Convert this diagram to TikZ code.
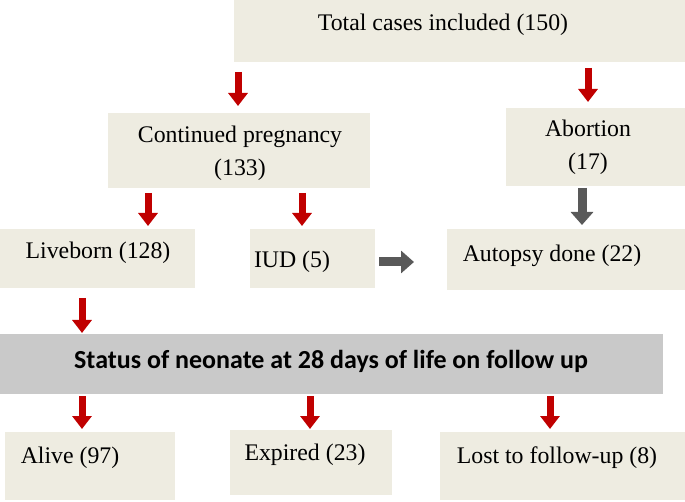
\documentclass[tikz,border=0pt]{standalone}
\usepackage{fontspec}
\setmainfont{Liberation Serif}
\newfontfamily\carl{Carlito}
\usetikzlibrary{arrows.meta}
\definecolor{beige}{HTML}{EEECE1}
\definecolor{barg}{HTML}{C9C9C9}
\definecolor{ared}{HTML}{C00000}
\definecolor{agray}{HTML}{595959}
\tikzset{
 box/.style={fill=beige,draw=none},
 lab/.style={font=\fontsize{23.8}{33}\selectfont,align=center,inner sep=0},
 redarr/.style={draw=ared,line width=7pt,-{Triangle[width=19pt,length=13pt]}},
 grayarr/.style={draw=agray,line width=9pt,-{Triangle[width=22pt,length=13pt]}}
}
\begin{document}
\begin{tikzpicture}[x=1pt,y=-1pt]
\useasboundingbox (0,0) rectangle (685,502);
\fill[box] (234,0) rectangle (685,62);
\fill[box] (108,113) rectangle (370,188);
\fill[box] (506,108) rectangle (685,186);
\fill[box] (0,229) rectangle (195,288);
\fill[box] (250,229) rectangle (375,288);
\fill[box] (447,229) rectangle (685,290);
\fill[barg] (0,334) rectangle (663,394);
\fill[box] (5,432) rectangle (175,500);
\fill[box] (230,430) rectangle (392,495);
\fill[box] (440,432) rectangle (685,500);
\node[lab] (total) at (443,25) {Total cases included (150)};
\node[lab] (cont) at (240,153) {Continued pregnancy\\(133)};
\node[lab] (abort) at (588,147) {Abortion\\(17)};
\node[lab] (live) at (98,253) {Liveborn (128)};
\node[lab] (iud) at (292,262) {IUD (5)};
\node[lab] (aut) at (552,256) {Autopsy done (22)};
\node[lab,font=\carl\bfseries\fontsize{26}{30}\selectfont] (status) at (331,361) {Status of neonate at 28 days of life on follow up};
\node[lab] (alive) at (70,458) {Alive (97)};
\node[lab] (exp) at (305,455) {Expired (23)};
\node[lab] (lost) at (557,458) {Lost to follow-up (8)};
\foreach \x/\a/\b in {238/72/106,588/68/102,148/193/226,302/193/226,82/298/333,82/396/429,310/396/429,550/396/429}
  \draw[redarr] (\x,\a) -- (\x,\b);
\coordinate (g1) at (582,188); \coordinate (g2) at (582,225);
\draw[grayarr] (g1) -- (g2);
\coordinate (g3) at (379,262); \coordinate (g4) at (414,262);
\draw[grayarr] (g3) -- (g4);
\end{tikzpicture}
\end{document}
